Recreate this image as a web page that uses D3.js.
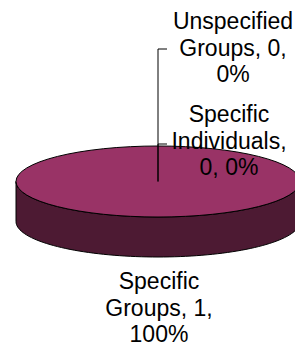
<!DOCTYPE html>
<html>
<head>
<meta charset="utf-8">
<script src="https://cdn.jsdelivr.net/npm/d3@7"></script>
<style>
  body { margin: 0; background: #fff; }
  text { font-family: "Liberation Sans", Arial, sans-serif; }
</style>
</head>
<body>
<div id="chart"></div>
<script>
// slice data
const categories = ["Specific Groups", "Specific Individuals", "Unspecified Groups"];
const values = [1, 0, 0];
const labelLines = [
    ["Specific", "Groups, 1,", "100%"],
    ["Specific", "Individuals,", "0, 0%"],
    ["Unspecified", "Groups, 0,", "0%"]
];

const width = 295, height = 347;
const cx = 158, cy = 181.5;   // centre of the top face
const rx = 142, ry = 35.5;    // ellipse radii
const depth = 40;
const topColor = "#993366";
const sideColor = "#4d1a33";

const svg = d3.select("#chart").append("svg")
    .attr("width", width)
    .attr("height", height);

const data = categories.map((c, i) => ({ name: c, value: values[i], lines: labelLines[i] }));
const pie = d3.pie().value(d => d.value).sort(null);
const arcs = pie(data);

const arc = d3.arc().innerRadius(0).outerRadius(rx);

// project an angle (clockwise from 12 o'clock) onto the ellipse
const px = a => cx + rx * Math.sin(a);
const py = (a, dy = 0) => cy + dy - ry * Math.cos(a);

// side wall: only the front half (angles between pi/2 and 3pi/2) is visible
arcs.filter(d => d.endAngle > d.startAngle).forEach(d => {
    const a0 = Math.max(d.startAngle, Math.PI / 2);
    const a1 = Math.min(d.endAngle, Math.PI * 3 / 2);
    if (a1 <= a0) return;
    const steps = 80;
    const pts = d3.range(steps + 1).map(i => a0 + (a1 - a0) * i / steps);
    const p = d3.path();
    p.moveTo(px(a0), py(a0));
    pts.forEach(a => p.lineTo(px(a), py(a)));
    p.lineTo(px(a1), py(a1, depth));
    pts.slice().reverse().forEach(a => p.lineTo(px(a), py(a, depth)));
    p.closePath();
    svg.append("path")
        .attr("d", p.toString())
        .attr("fill", sideColor)
        .attr("stroke", "#000")
        .attr("stroke-width", 1)
        .attr("stroke-linejoin", "round");
});

// top face: circle arcs squashed into the ellipse
svg.append("g")
    .attr("transform", `translate(${cx},${cy}) scale(1,${ry / rx})`)
    .selectAll("path")
    .data(arcs.filter(d => d.endAngle > d.startAngle))
    .join("path")
    .attr("d", arc)
    .attr("fill", topColor)
    .attr("stroke", "#000")
    .attr("stroke-width", 1)
    .attr("vector-effect", "non-scaling-stroke");

// label positions (centre x, first baseline)
const labelPos = [
    { x: 159, y: 289 },
    { x: 229, y: 122 },
    { x: 233, y: 29 }
];
const lineHeight = 26.5;

// leader lines for the empty slices run from the centre to the label
const leaders = [
    null,
    { y: 144, x1: 167 },
    { y: 49, x1: 167 }
];
leaders.forEach(l => {
    if (!l) return;
    svg.append("path")
        .attr("d", `M${cx},${cy}V${l.y}H${l.x1}`)
        .attr("fill", "none")
        .attr("stroke", "#000")
        .attr("stroke-width", 1);
});

arcs.forEach((d, i) => {
    const t = svg.append("text")
        .attr("text-anchor", "middle")
        .attr("font-size", 23)
        .attr("fill", "#000");
    d.data.lines.forEach((s, j) => {
        t.append("tspan")
            .attr("x", labelPos[i].x)
            .attr("y", labelPos[i].y + j * lineHeight)
            .text(s);
    });
});
</script>
</body>
</html>
